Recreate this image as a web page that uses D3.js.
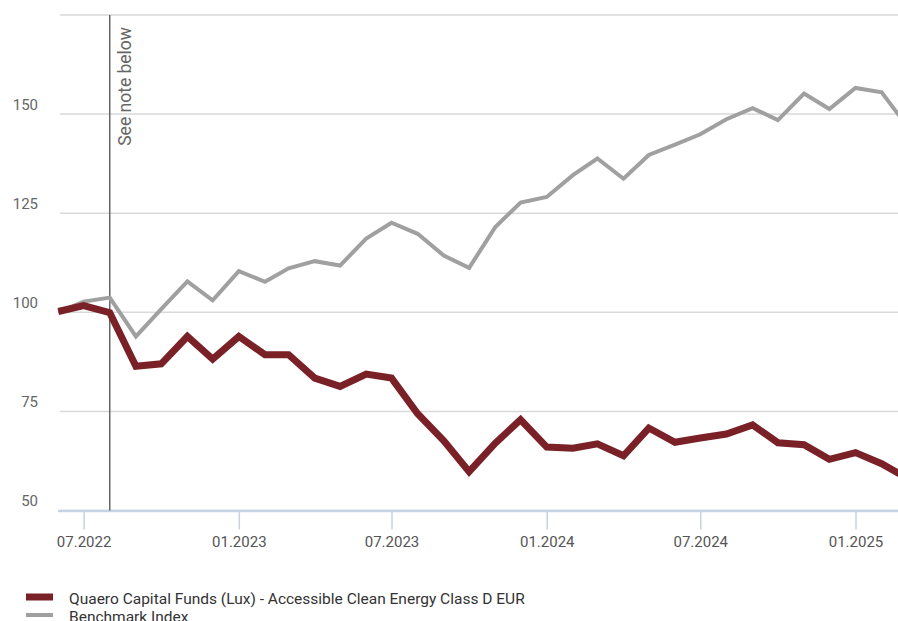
<!DOCTYPE html>
<html>
<head>
<meta charset="utf-8">
<script src="https://cdn.jsdelivr.net/npm/d3@7"></script>
<style>
  body { margin: 0; background: #fff; }
  svg { display: block; font-family: Roboto, "Noto Sans", sans-serif; }
</style>
</head>
<body>
<div id="chart"></div>
<script>
// Monthly dates, June 2022 to March 2025.
const months = [
  '2022-06', '2022-07', '2022-08', '2022-09', '2022-10', '2022-11', '2022-12',
  '2023-01', '2023-02', '2023-03', '2023-04', '2023-05', '2023-06', '2023-07',
  '2023-08', '2023-09', '2023-10', '2023-11', '2023-12', '2024-01', '2024-02',
  '2024-03', '2024-04', '2024-05', '2024-06', '2024-07', '2024-08', '2024-09',
  '2024-10', '2024-11', '2024-12', '2025-01', '2025-02', '2025-03'
];

const fundValues = [
  100.2, 101.7, 99.9, 86.4, 87.0, 93.9, 88.2,
  93.9, 89.3, 89.3, 83.4, 81.3, 84.4, 83.4,
  74.4, 67.6, 59.8, 67.0, 72.9, 66.0, 65.7,
  66.8, 63.8, 70.8, 67.2, 68.3, 69.3, 71.6,
  67.1, 66.6, 62.9, 64.6, 61.8, 58.4
];

const benchmarkValues = [
  100.0, 102.7, 103.7, 93.9, 100.8, 107.8, 103.0,
  110.4, 107.7, 111.1, 112.9, 111.8, 118.6, 122.6,
  119.8, 114.3, 111.2, 121.5, 127.7, 129.1, 134.6,
  138.8, 133.7, 139.7, 142.3, 144.9, 148.7, 151.5,
  148.5, 155.2, 151.3, 156.6, 155.5, 147.6
];

const yTicks = [50, 75, 100, 125, 150, 175];
const yLabels = [50, 75, 100, 125, 150];
const xTicks = ['2022-07', '2023-01', '2023-07', '2024-01', '2024-07', '2025-01'];
const noteMonth = '2022-08';
const noteText = 'See note below';

const seriesNames = [
  'Quaero Capital Funds (Lux) - Accessible Clean Energy Class D EUR',
  'Benchmark Index'
];

(function() {
  const width = 898;
  const height = 621;
  const parse = d3.timeParse('%Y-%m');

  const vis = d3.select('#chart')
    .append('svg')
    .attr('width', width)
    .attr('height', height);

  const x = d3.scaleTime()
    .domain([parse('2022-07'), parse('2025-01')])
    .range([83.6, 855.5]);

  const y = d3.scaleLinear()
    .domain([50, 175])
    .range([510.5, 15]);

  // Grid lines.
  vis.append('g')
    .selectAll('line')
    .data(yTicks)
    .enter()
    .append('line')
    .attr('x1', 60)
    .attr('x2', width)
    .attr('y1', d => y(d))
    .attr('y2', d => y(d))
    .style('stroke', '#d9d9d9')
    .style('stroke-width', 1.5);

  // Y labels sit just above their grid line.
  vis.append('g')
    .selectAll('text')
    .data(yLabels)
    .enter()
    .append('text')
    .text(d => d)
    .attr('x', 38)
    .attr('y', d => y(d) - 4.5)
    .style('text-anchor', 'end')
    .style('font-size', '15px')
    .style('fill', '#666');

  // X axis.
  const xAxis = d3.axisBottom(x)
    .tickValues(xTicks.map(parse))
    .tickFormat(d3.timeFormat('%m.%Y'))
    .tickSize(19)
    .tickSizeOuter(0)
    .tickPadding(7);

  const axisG = vis.append('g')
    .attr('transform', `translate(0, ${y(50)})`)
    .call(xAxis);
  axisG.select('.domain').remove();
  axisG.selectAll('.tick line')
    .style('stroke', '#c5d3e3')
    .style('stroke-width', 1.5);
  axisG.selectAll('.tick text')
    .style('font-family', 'Roboto, sans-serif')
    .style('font-size', '15px')
    .style('fill', '#555');
  axisG.append('line')
    .attr('x1', 58)
    .attr('x2', width)
    .attr('y1', 0.5)
    .attr('y2', 0.5)
    .style('stroke', '#c5d3e3')
    .style('stroke-width', 2.5);

  // Note marker.
  const nx = x(parse(noteMonth));
  vis.append('line')
    .attr('x1', nx)
    .attr('x2', nx)
    .attr('y1', y(175))
    .attr('y2', y(50))
    .style('stroke', '#666')
    .style('stroke-width', 1.5);
  vis.append('text')
    .text(noteText)
    .attr('transform', `translate(${nx + 21.5}, ${y(175) + 12}) rotate(-90)`)
    .style('text-anchor', 'end')
    .style('font-size', '17.5px')
    .style('fill', '#666');

  // Lines.
  const line = d3.line()
    .x((d, i) => x(parse(months[i])))
    .y(d => y(d));

  vis.append('path')
    .datum(benchmarkValues)
    .attr('d', line)
    .style('fill', 'none')
    .style('stroke', '#a0a0a0')
    .style('stroke-width', 4)
    .style('stroke-linejoin', 'miter');

  vis.append('path')
    .datum(fundValues)
    .attr('d', line)
    .style('fill', 'none')
    .style('stroke', '#7a2128')
    .style('stroke-width', 7)
    .style('stroke-linejoin', 'miter');

  // Legend.
  const legendColors = ['#7a2128', '#a0a0a0'];
  const legendHeights = [7, 4];
  const legend = vis.append('g')
    .selectAll('g')
    .data(seriesNames)
    .enter()
    .append('g')
    .attr('transform', (d, i) => `translate(26, ${597 + i * 18})`);

  legend.append('rect')
    .attr('x', 0)
    .attr('y', (d, i) => -legendHeights[i] / 2)
    .attr('width', 27)
    .attr('height', (d, i) => legendHeights[i])
    .style('fill', (d, i) => legendColors[i]);

  legend.append('text')
    .text(d => d)
    .attr('x', 43)
    .attr('y', 7)
    .style('font-size', '15.5px')
    .style('fill', '#333');
})();
</script>
</body>
</html>
